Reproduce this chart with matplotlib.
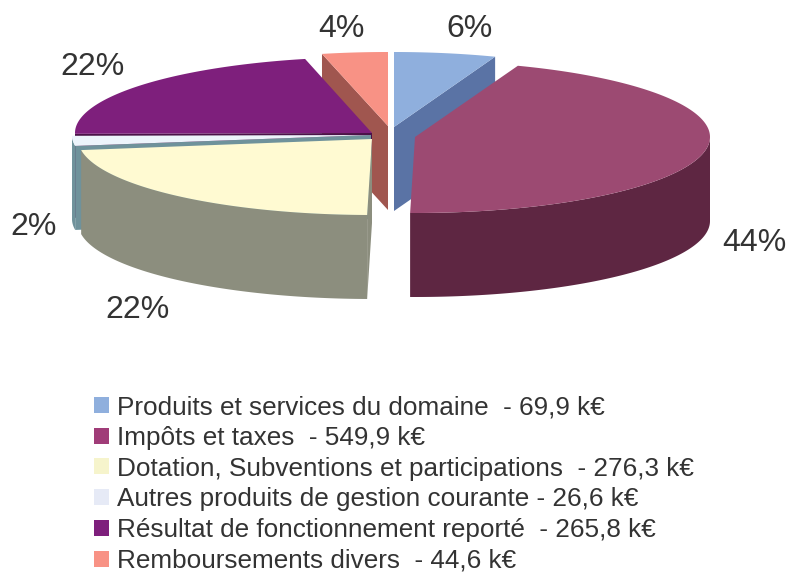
import numpy as np
import matplotlib
matplotlib.use("Agg")
import matplotlib.pyplot as plt
from matplotlib.patches import Patch

plt.rcParams['font.family'] = ['Liberation Sans', 'DejaVu Sans']

labels = ["Produits et services du domaine  - 69,9 k€",
          "Impôts et taxes  - 549,9 k€",
          "Dotation, Subventions et participations  - 276,3 k€",
          "Autres produits de gestion courante - 26,6 k€",
          "Résultat de fonctionnement reporté  - 265,8 k€",
          "Remboursements divers  - 44,6 k€"]
values = [69.9, 549.9, 276.3, 26.6, 265.8, 44.6]
pct_labels = ["6%", "44%", "22%", "2%", "22%", "4%"]

top_colors = ['#8FAFDD', '#9C4A72', '#FFFAD2', '#EDF4FB', '#7E1F7C', '#F89285']
side_colors = ['#5A73A5', '#5E2642', '#8C8E7E', '#6F929B', '#4A1248', '#A0564F']
legend_colors = ['#8FAFDD', '#A03C78', '#F6F4CC', '#E6EAF6', '#7E1F7C', '#F89285']

# exploded slice layout in pixels: apex x, apex y, radius x, radius y
centers = [(394, 127, 290, 75), (415, 137, 295, 76), (372, 139, 294, 76),
           (371, 135, 299, 75), (372, 133, 297, 76), (388, 126, 293, 74)]
label_pos = [(470, 29), (754, 243), (138, 310), (34, 227), (93, 67), (341, 29)]
depth = 84
draw_order = [5, 0, 4, 3, 2, 1]

fig = plt.figure(figsize=(7.89, 5.73), dpi=100)
ax = fig.add_axes([0, 0, 1, 1])
ax.set_xlim(0, 789)
ax.set_ylim(573, 0)
ax.axis('off')

edges = np.concatenate([[0], np.cumsum(values)]) / sum(values) * 2 * np.pi


def rim(c, a):
    return c[0] + c[2] * np.sin(a), c[1] - c[3] * np.cos(a)


for i in draw_order:
    c = centers[i]
    a1, a2 = edges[i], edges[i + 1]

    # cut faces, only when they look towards the viewer
    for a, show in [(a1, np.sin(a1) < 0), (a2, np.sin(a2) > 0)]:
        if show:
            x, y = rim(c, a)
            ax.fill([c[0], x, x, c[0]], [c[1], y, y + depth, c[1] + depth],
                    color=side_colors[i], lw=0)

    # outer wall on the front half
    lo, hi = max(a1, np.pi / 2), min(a2, 3 * np.pi / 2)
    if hi > lo:
        t = np.linspace(lo, hi, 120)
        x, y = rim(c, t)
        ax.fill(np.r_[x, x[::-1]], np.r_[y, y[::-1] + depth],
                color=side_colors[i], lw=0)

    # top face
    t = np.linspace(a1, a2, 200)
    x, y = rim(c, t)
    ax.fill(np.r_[c[0], x], np.r_[c[1], y], color=top_colors[i], lw=0)

for txt, (x, y) in zip(pct_labels, label_pos):
    ax.text(x, y, txt, fontsize=23, color='#333333', ha='center', va='center')

handles = [Patch(facecolor=col, edgecolor='none') for col in legend_colors]
ax.legend(handles, labels, loc='upper left', bbox_to_anchor=(94 / 789, 1 - 395 / 573),
          frameon=False, fontsize=18.8, labelcolor='#333333', handlelength=0.57,
          handleheight=0.57, handletextpad=0.3, labelspacing=0.26,
          borderpad=0, borderaxespad=0)

plt.savefig('out.png', dpi=100)
